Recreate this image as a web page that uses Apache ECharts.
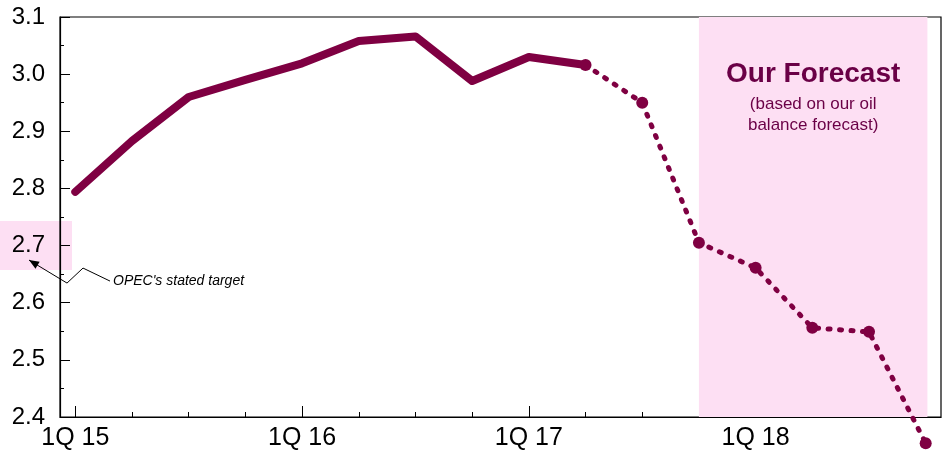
<!DOCTYPE html>
<html>
<head>
<meta charset="utf-8">
<script src="https://cdn.jsdelivr.net/npm/echarts@6/dist/echarts.min.js"></script>
<style>
  html, body { margin: 0; padding: 0; background: #fff; }
  #chart { width: 943px; height: 454px; }
</style>
</head>
<body>
<div id="chart"></div>
<script>
// Quarter labels along the x axis (index = position on the value axis)
const quarters = ['1Q 15', '2Q 15', '3Q 15', '4Q 15', '1Q 16', '2Q 16', '3Q 16', '4Q 16',
                  '1Q 17', '2Q 17', '3Q 17', '4Q 17', '1Q 18', '2Q 18', '3Q 18', '4Q 18'];
// Reported values, 1Q 15 .. 2Q 17
const actualValues = [2.794, 2.883, 2.960, 2.990, 3.019, 3.058, 3.066, 2.988, 3.030, 3.016];
// Projected values, 2Q 17 .. 4Q 18
const forecastStartIndex = 9;
const forecastValues = [3.016, 2.950, 2.705, 2.661, 2.556, 2.549, 2.354];
// Labelled quarters and the shaded forecast span
const yearTickIndices = [0, 4, 8, 12];
const forecastSpan = [11, 15.03];
const targetLevel = 2.7;

const LINE = '#7f0042';
const PINK = '#fddff3';
const TEXT_PURPLE = '#6a0046';
const FONT = 'Liberation Sans, Arial, sans-serif';

const actualData = actualValues.map((v, i) => [i, v]);
const forecastData = forecastValues.map((v, i) => [forecastStartIndex + i, v]);
const minorTickIndices = quarters.map((q, i) => i).filter(i => yearTickIndices.indexOf(i) < 0);

const chart = echarts.init(document.getElementById('chart'), null, { renderer: 'canvas' });

const xRange = { min: -0.27, max: 15.27 };

chart.setOption({
  animation: false,
  backgroundColor: '#fff',
  grid: {
    left: 60, right: 2, top: 17, bottom: 37,
    show: true, borderColor: '#000', borderWidth: 1.2, backgroundColor: 'transparent'
  },
  xAxis: [
    {
      type: 'value', min: xRange.min, max: xRange.max,
      axisLine: { show: true, onZero: false, lineStyle: { color: '#000', width: 1.2 } },
      axisTick: { show: true, inside: true, length: 11, customValues: yearTickIndices,
                  lineStyle: { color: '#000', width: 1 } },
      axisLabel: { show: true, customValues: yearTickIndices, formatter: v => quarters[Math.round(v)],
                   fontSize: 25, color: '#000', margin: 9, fontFamily: FONT },
      splitLine: { show: false }
    },
    {
      type: 'value', min: xRange.min, max: xRange.max, position: 'bottom',
      axisLine: { show: false, onZero: false },
      axisTick: { show: true, inside: true, length: 5, customValues: minorTickIndices,
                  lineStyle: { color: '#000', width: 1 } },
      axisLabel: { show: false },
      splitLine: { show: false }
    }
  ],
  yAxis: {
    type: 'value', min: 2.4, max: 3.1, interval: 0.1,
    axisLine: { show: true, onZero: false, lineStyle: { color: '#000', width: 1.2 } },
    axisTick: { show: true, inside: true, length: 10, lineStyle: { color: '#000', width: 1 } },
    minorTick: { show: true, splitNumber: 2, length: 4, lineStyle: { color: '#000', width: 1 } },
    axisLabel: { formatter: v => v.toFixed(1), fontSize: 24, color: '#000', margin: 15, fontFamily: FONT },
    splitLine: { show: false }
  },
  series: [
    {
      // shaded forecast period
      type: 'line', data: [], z: 1, silent: true,
      markArea: {
        silent: true,
        itemStyle: { color: PINK },
        label: {
          show: true, position: 'insideTop', distance: 38,
          formatter: '{t|Our Forecast}\n{s|(based on our oil}\n{s|balance forecast)}',
          rich: {
            t: { fontSize: 28, fontWeight: 'bold', color: TEXT_PURPLE, lineHeight: 39, fontFamily: FONT, align: 'center' },
            s: { fontSize: 17, color: TEXT_PURPLE, lineHeight: 21, fontFamily: FONT, align: 'center' }
          }
        },
        data: [[{ xAxis: forecastSpan[0] }, { xAxis: forecastSpan[1] }]]
      }
    },
    {
      name: 'Actual', type: 'line', data: actualData, z: 3,
      showSymbol: false, symbol: 'none',
      lineStyle: { color: LINE, width: 8, cap: 'round', join: 'round' }
    },
    {
      name: 'Forecast', type: 'line', data: forecastData, z: 4, clip: false,
      symbol: 'circle', symbolSize: 12, showSymbol: true,
      itemStyle: { color: LINE },
      lineStyle: { color: LINE, width: 5, type: [2, 9.5], cap: 'round', join: 'round' }
    }
  ]
});

// Highlight of the 2.7 label and the call-out pointing at it
const axisX = chart.convertToPixel({ xAxisIndex: 0 }, xRange.min);
const yT = chart.convertToPixel({ yAxisIndex: 0 }, targetLevel);
const tip = [axisX - 31, yT + 14.5];
const calloutPts = [tip, [axisX + 7, yT + 37.5], [axisX + 23, yT + 22.5], [axisX + 50, yT + 35.5]];
const dx = tip[0] - calloutPts[1][0], dy = tip[1] - calloutPts[1][1];
const len = Math.sqrt(dx * dx + dy * dy);
const ux = dx / len, uy = dy / len;
const headLen = 10, headHalf = 4;
const bx = tip[0] - ux * headLen, by = tip[1] - uy * headLen;
const head = [tip, [bx - uy * headHalf, by + ux * headHalf], [bx + uy * headHalf, by - ux * headHalf]];

chart.setOption({
  graphic: [
    { type: 'rect', z: -10, silent: true,
      shape: { x: 0, y: yT - 24.5, width: axisX + 12, height: 49 },
      style: { fill: PINK } },
    { type: 'polyline', z: 10, silent: true,
      shape: { points: calloutPts },
      style: { stroke: '#000', lineWidth: 1, fill: null } },
    { type: 'polygon', z: 10, silent: true,
      shape: { points: head },
      style: { fill: '#000' } },
    { type: 'text', z: 10, silent: true,
      x: axisX + 53, y: yT + 35.5,
      style: { text: "OPEC's stated target", font: 'italic 14px ' + FONT, fill: '#000',
               textVerticalAlign: 'middle', verticalAlign: 'middle' } }
  ]
});
</script>
</body>
</html>
